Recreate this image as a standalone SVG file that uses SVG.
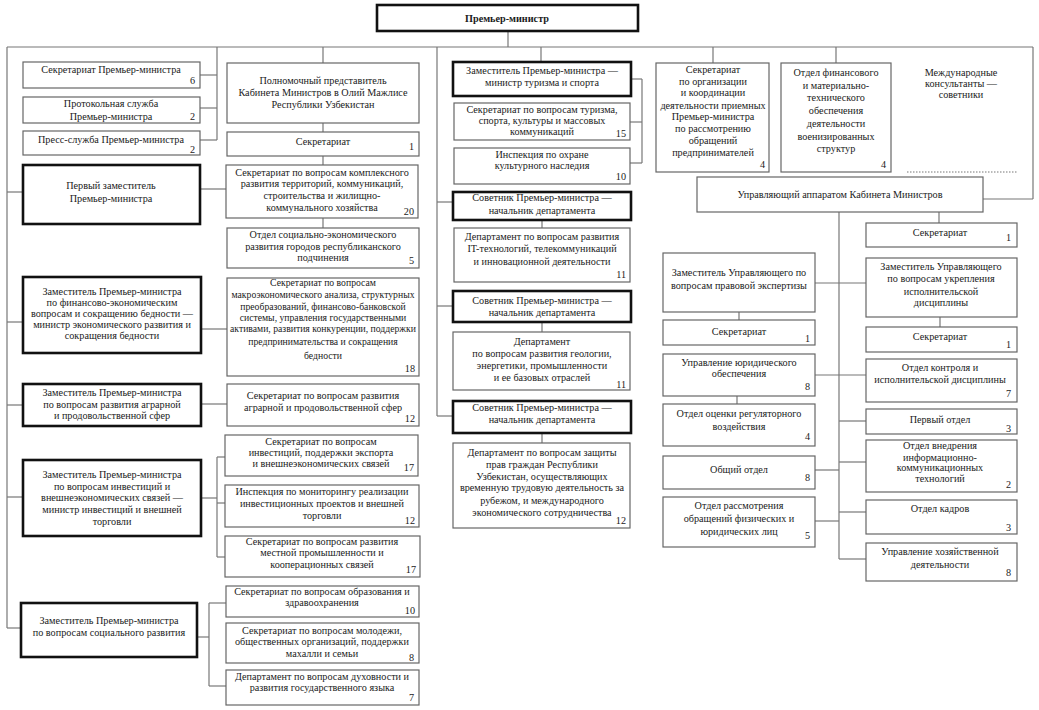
<svg xmlns="http://www.w3.org/2000/svg" width="1039" height="710" viewBox="0 0 1039 710" font-family="'Liberation Serif', 'Times New Roman', serif">
<style>
.b{fill:#fff;stroke:#666;stroke-width:1.2}
.t{fill:#fff;stroke:#111;stroke-width:2.6}
text{font-family:"Liberation Serif","Times New Roman",serif;font-size:10.2px;fill:#1a1a1a}
.m{text-anchor:middle}
.n{text-anchor:end}
.s{font-size:9.7px}
.c line,.c path{stroke:#777;stroke-width:1.2;fill:none}
</style>
<rect width="1039" height="710" fill="#fff"/>
<g class="c" id="connectors">
<line x1="508" y1="31" x2="508" y2="47"/>
<line x1="7" y1="47" x2="1033" y2="47"/>
<line x1="7" y1="47" x2="7" y2="628"/>
<line x1="7" y1="192" x2="23" y2="192"/>
<line x1="7" y1="322" x2="23" y2="322"/>
<line x1="7" y1="405" x2="23" y2="405"/>
<line x1="7" y1="497" x2="23" y2="497"/>
<line x1="7" y1="628" x2="21" y2="628"/>
<line x1="217" y1="47" x2="217" y2="140"/>
<line x1="200" y1="75" x2="217" y2="75"/>
<line x1="200" y1="108" x2="217" y2="108"/>
<line x1="200" y1="140" x2="217" y2="140"/>
<line x1="323" y1="47" x2="323" y2="63"/>
<line x1="323" y1="123" x2="323" y2="132"/>
<line x1="323" y1="156" x2="323" y2="165"/>
<line x1="323" y1="218" x2="323" y2="228"/>
<line x1="200" y1="189" x2="226" y2="189"/>
<line x1="201" y1="329" x2="227" y2="329"/>
<line x1="201" y1="404" x2="227" y2="404"/>
<line x1="217" y1="457" x2="217" y2="557"/>
<line x1="217" y1="457" x2="225" y2="457"/>
<line x1="217" y1="503" x2="225" y2="503"/>
<line x1="217" y1="557" x2="225" y2="557"/>
<line x1="201" y1="498" x2="217" y2="498"/>
<line x1="209" y1="603" x2="209" y2="686"/>
<line x1="209" y1="603" x2="226" y2="603"/>
<line x1="209" y1="686" x2="226" y2="686"/>
<line x1="197" y1="637" x2="209" y2="637"/>
<line x1="437" y1="47" x2="437" y2="416"/>
<line x1="437" y1="202" x2="453" y2="202"/>
<line x1="437" y1="306" x2="453" y2="306"/>
<line x1="437" y1="416" x2="453" y2="416"/>
<line x1="541" y1="47" x2="541" y2="62"/>
<line x1="642" y1="79" x2="642" y2="163"/>
<line x1="631" y1="79" x2="642" y2="79"/>
<line x1="630" y1="122" x2="642" y2="122"/>
<line x1="630" y1="163" x2="642" y2="163"/>
<line x1="542" y1="220" x2="542" y2="228"/>
<line x1="542" y1="322" x2="542" y2="332"/>
<line x1="542" y1="433" x2="542" y2="443"/>
<line x1="713" y1="47" x2="713" y2="63"/>
<line x1="836" y1="47" x2="836" y2="63"/>
<line x1="1033" y1="47" x2="1033" y2="199"/>
<line x1="983" y1="199" x2="1033" y2="199"/>
<line x1="907" y1="172" x2="1017" y2="172" stroke-dasharray="1.5,1.5"/>
<line x1="839" y1="212" x2="839" y2="559"/>
<line x1="939" y1="212" x2="939" y2="223"/>
<line x1="815" y1="283" x2="866" y2="283"/>
<line x1="739" y1="312" x2="739" y2="320"/>
<line x1="940" y1="317" x2="940" y2="327"/>
<line x1="815" y1="375" x2="866" y2="375"/>
<line x1="737" y1="396" x2="737" y2="404"/>
<line x1="839" y1="421" x2="866" y2="421"/>
<line x1="839" y1="462" x2="866" y2="462"/>
<line x1="815" y1="470" x2="839" y2="470"/>
<line x1="839" y1="512" x2="866" y2="512"/>
<line x1="815" y1="521" x2="839" y2="521"/>
<line x1="839" y1="559" x2="866" y2="559"/>
</g>
<g id="n0"><rect class="t" x="377" y="5" width="261" height="26"/><text class="m" x="507" y="22" font-weight="bold">Премьер-министр</text></g>
<g id="n1"><rect class="b" x="23" y="62" width="177" height="26"/><text class="m" x="111" y="73">Секретариат Премьер-министра</text><text class="n" x="195" y="84">6</text></g>
<g id="n2"><rect class="b" x="23" y="97" width="177" height="26"/><text class="m"><tspan x="111" y="107">Протокольная служба</tspan><tspan x="111" y="120">Премьер-министра</tspan></text><text class="n" x="195" y="120">2</text></g>
<g id="n3"><rect class="b" x="23" y="131" width="177" height="24"/><text class="m" x="111" y="143">Пресс-служба Премьер-министра</text><text class="n" x="195" y="153">2</text></g>
<g id="n4"><rect class="t" x="23" y="165" width="177" height="59"/><text class="m"><tspan x="111" y="189">Первый заместитель</tspan><tspan x="111" y="202">Премьер-министра</tspan></text></g>
<g id="n5"><rect class="t" x="23" y="277" width="178" height="76"/><text class="m"><tspan x="112" y="295">Заместитель Премьер-министра</tspan><tspan x="112" y="306">по финансово-экономическим</tspan><tspan x="112" y="317">вопросам и сокращению бедности —</tspan><tspan x="112" y="328">министр экономического развития и</tspan><tspan x="112" y="339">сокращения бедности</tspan></text></g>
<g id="n6"><rect class="t" x="23" y="384" width="178" height="42"/><text class="m"><tspan x="112" y="396">Заместитель Премьер-министра</tspan><tspan x="112" y="408">по вопросам развития аграрной</tspan><tspan x="112" y="419">и продовольственной сфер</tspan></text></g>
<g id="n7"><rect class="t" x="23" y="460" width="178" height="76"/><text class="m"><tspan x="112" y="478">Заместитель Премьер-министра</tspan><tspan x="112" y="490">по вопросам инвестиций и</tspan><tspan x="112" y="501">внешнеэкономических связей —</tspan><tspan x="112" y="513">министр инвестиций и внешней</tspan><tspan x="112" y="525">торговли</tspan></text></g>
<g id="n8"><rect class="t" x="21" y="603" width="176" height="54"/><text class="m"><tspan x="109" y="624">Заместитель Премьер-министра</tspan><tspan x="109" y="636">по вопросам социального развития</tspan></text></g>
<g id="n9"><rect class="b" x="227" y="63" width="192" height="60"/><text class="m"><tspan x="323" y="84">Полномочный представитель</tspan><tspan x="323" y="96">Кабинета Министров в Олий Мажлисе</tspan><tspan x="323" y="108">Республики Узбекистан</tspan></text></g>
<g id="n10"><rect class="b" x="227" y="132" width="192" height="24"/><text class="m" x="323" y="145">Секретариат</text><text class="n" x="414" y="150">1</text></g>
<g id="n11"><rect class="b" x="226" y="165" width="192" height="53"/><text class="m"><tspan x="322" y="176">Секретариат по вопросам комплексного</tspan><tspan x="322" y="187">развития территорий, коммуникаций,</tspan><tspan x="322" y="199">строительства и жилищно-</tspan><tspan x="322" y="211">коммунального хозяйства</tspan></text><text class="n" x="414" y="215">20</text></g>
<g id="n12"><rect class="b" x="227" y="228" width="192" height="40"/><text class="m"><tspan x="323" y="238">Отдел социально-экономического</tspan><tspan x="323" y="250">развития городов республиканского</tspan><tspan x="323" y="261">подчинения</tspan></text><text class="n" x="414" y="264">5</text></g>
<g id="n13"><rect class="b" x="227" y="278" width="192" height="98"/><text class="m s"><tspan x="323" y="286">Секретариат по вопросам</tspan><tspan x="323" y="298">макроэкономического анализа, структурных</tspan><tspan x="323" y="310">преобразований, финансово-банковской</tspan><tspan x="323" y="321">системы, управления государственными</tspan><tspan x="323" y="332">активами, развития конкуренции, поддержки</tspan><tspan x="323" y="345">предпринимательства и сокращения</tspan><tspan x="323" y="359">бедности</tspan></text><text class="n" x="415" y="372">18</text></g>
<g id="n14"><rect class="b" x="227" y="384" width="192" height="42"/><text class="m"><tspan x="323" y="399">Секретариат по вопросам развития</tspan><tspan x="323" y="411">аграрной и продовольственной сфер</tspan></text><text class="n" x="415" y="422">12</text></g>
<g id="n15"><rect class="b" x="225" y="435" width="193" height="41"/><text class="m"><tspan x="321" y="445">Секретариат по вопросам</tspan><tspan x="321" y="456">инвестиций, поддержки экспорта</tspan><tspan x="321" y="467">и внешнеэкономических связей</tspan></text><text class="n" x="414" y="471">17</text></g>
<g id="n16"><rect class="b" x="225" y="485" width="194" height="42"/><text class="m"><tspan x="322" y="495">Инспекция по мониторингу реализации</tspan><tspan x="322" y="507">инвестиционных проектов и внешней</tspan><tspan x="322" y="519">торговли</tspan></text><text class="n" x="415" y="524">12</text></g>
<g id="n17"><rect class="b" x="225" y="536" width="195" height="41"/><text class="m"><tspan x="322" y="545">Секретариат по вопросам развития</tspan><tspan x="322" y="556">местной промышленности и</tspan><tspan x="322" y="568">кооперационных связей</tspan></text><text class="n" x="416" y="573">17</text></g>
<g id="n18"><rect class="b" x="226" y="586" width="193" height="31"/><text class="m"><tspan x="322" y="595">Секретариат по вопросам образования и</tspan><tspan x="322" y="606">здравоохранения</tspan></text><text class="n" x="415" y="614">10</text></g>
<g id="n19"><rect class="b" x="226" y="623" width="193" height="40"/><text class="m"><tspan x="322" y="634">Секретариат по вопросам молодежи,</tspan><tspan x="322" y="645">общественных организаций, поддержки</tspan><tspan x="322" y="657">махалли и семьи</tspan></text><text class="n" x="414" y="661">8</text></g>
<g id="n20"><rect class="b" x="226" y="670" width="193" height="35"/><text class="m"><tspan x="322" y="680">Департамент по вопросам духовности и</tspan><tspan x="322" y="691">развития государственного языка</tspan></text><text class="n" x="414" y="701">7</text></g>
<g id="n21"><rect class="t" x="453" y="62" width="178" height="34"/><text class="m"><tspan x="542" y="74">Заместитель Премьер-министра —</tspan><tspan x="542" y="86">министр туризма и спорта</tspan></text></g>
<g id="n22"><rect class="b" x="454" y="103" width="176" height="37"/><text class="m"><tspan x="542" y="113">Секретариат по вопросам туризма,</tspan><tspan x="542" y="124">спорта, культуры и массовых</tspan><tspan x="542" y="135">коммуникаций</tspan></text><text class="n" x="626" y="137">15</text></g>
<g id="n23"><rect class="b" x="454" y="148" width="176" height="36"/><text class="m"><tspan x="542" y="158">Инспекция по охране</tspan><tspan x="542" y="169">культурного наследия</tspan></text><text class="n" x="626" y="180">10</text></g>
<g id="n24"><rect class="t" x="453" y="192" width="178" height="28"/><text class="m"><tspan x="542" y="201">Советник Премьер-министра —</tspan><tspan x="542" y="214">начальник департамента</tspan></text></g>
<g id="n25"><rect class="b" x="454" y="228" width="176" height="54"/><text class="m"><tspan x="542" y="240">Департамент по вопросам развития</tspan><tspan x="542" y="252">IT-технологий, телекоммуникаций</tspan><tspan x="542" y="265">и инновационной деятельности</tspan></text><text class="n" x="626" y="278">11</text></g>
<g id="n26"><rect class="t" x="453" y="291" width="178" height="31"/><text class="m"><tspan x="542" y="304">Советник Премьер-министра —</tspan><tspan x="542" y="316">начальник департамента</tspan></text></g>
<g id="n27"><rect class="b" x="453" y="332" width="177" height="58"/><text class="m"><tspan x="542" y="345">Департамент</tspan><tspan x="542" y="357">по вопросам развития геологии,</tspan><tspan x="542" y="369">энергетики, промышленности</tspan><tspan x="542" y="381">и ее базовых отраслей</tspan></text><text class="n" x="626" y="388">11</text></g>
<g id="n28"><rect class="t" x="453" y="401" width="178" height="32"/><text class="m"><tspan x="542" y="411">Советник Премьер-министра —</tspan><tspan x="542" y="423">начальник департамента</tspan></text></g>
<g id="n29"><rect class="b" x="453" y="443" width="177" height="85"/><text class="m"><tspan x="542" y="456">Департамент по вопросам защиты</tspan><tspan x="542" y="468">прав граждан Республики</tspan><tspan x="542" y="480">Узбекистан, осуществляющих</tspan><tspan x="542" y="491">временную трудовую деятельность за</tspan><tspan x="542" y="504">рубежом, и международного</tspan><tspan x="542" y="516">экономического сотрудничества</tspan></text><text class="n" x="626" y="524">12</text></g>
<g id="n30"><rect class="b" x="656" y="63" width="113" height="109"/><text class="m"><tspan x="713" y="73">Секретариат</tspan><tspan x="713" y="85">по организации</tspan><tspan x="713" y="96">и координации</tspan><tspan x="713" y="109">деятельности приемных</tspan><tspan x="713" y="120">Премьер-министра</tspan><tspan x="713" y="132">по рассмотрению</tspan><tspan x="713" y="144">обращений</tspan><tspan x="713" y="156">предпринимателей</tspan></text><text class="n" x="765" y="168">4</text></g>
<g id="n31"><rect class="b" x="781" y="63" width="110" height="109"/><text class="m"><tspan x="836" y="76">Отдел финансового</tspan><tspan x="836" y="89">и материально-</tspan><tspan x="836" y="101">технического</tspan><tspan x="836" y="114">обеспечения</tspan><tspan x="836" y="127">деятельности</tspan><tspan x="836" y="140">военизированных</tspan><tspan x="836" y="152">структур</tspan></text><text class="n" x="886" y="168">4</text></g>
<g id="n32"><text class="m"><tspan x="961" y="76">Международные</tspan><tspan x="961" y="87">консультанты —</tspan><tspan x="961" y="98">советники</tspan></text></g>
<g id="n33"><rect class="b" x="697" y="177" width="286" height="35"/><text class="m" x="840" y="198">Управляющий аппаратом Кабинета Министров</text></g>
<g id="n34"><rect class="b" x="866" y="223" width="151" height="24"/><text class="m" x="940" y="236">Секретариат</text><text class="n" x="1011" y="241">1</text></g>
<g id="n35"><rect class="b" x="663" y="253" width="152" height="59"/><text class="m"><tspan x="739" y="276">Заместитель Управляющего по</tspan><tspan x="739" y="289">вопросам правовой экспертизы</tspan></text></g>
<g id="n36"><rect class="b" x="866" y="258" width="151" height="59"/><text class="m"><tspan x="941" y="270">Заместитель Управляющего</tspan><tspan x="941" y="282">по вопросам укрепления</tspan><tspan x="941" y="295">исполнительской</tspan><tspan x="941" y="306">дисциплины</tspan></text></g>
<g id="n37"><rect class="b" x="663" y="320" width="152" height="25"/><text class="m" x="739" y="335">Секретариат</text><text class="n" x="810" y="342">1</text></g>
<g id="n38"><rect class="b" x="866" y="327" width="151" height="25"/><text class="m" x="940" y="340">Секретариат</text><text class="n" x="1011" y="348">1</text></g>
<g id="n39"><rect class="b" x="663" y="354" width="152" height="42"/><text class="m"><tspan x="739" y="366">Управление юридического</tspan><tspan x="739" y="377">обеспечения</tspan></text><text class="n" x="810" y="390">8</text></g>
<g id="n40"><rect class="b" x="866" y="359" width="151" height="43"/><text class="m"><tspan x="940" y="371">Отдел контроля и</tspan><tspan x="940" y="383">исполнительской дисциплины</tspan></text><text class="n" x="1011" y="397">7</text></g>
<g id="n41"><rect class="b" x="663" y="404" width="152" height="42"/><text class="m"><tspan x="739" y="417">Отдел оценки регуляторного</tspan><tspan x="739" y="430">воздействия</tspan></text><text class="n" x="810" y="440">4</text></g>
<g id="n42"><rect class="b" x="866" y="409" width="151" height="25"/><text class="m" x="940" y="423">Первый отдел</text><text class="n" x="1011" y="432">3</text></g>
<g id="n43"><rect class="b" x="866" y="440" width="151" height="52"/><text class="m"><tspan x="940" y="449">Отдел внедрения</tspan><tspan x="940" y="461">информационно-</tspan><tspan x="940" y="471">коммуникационных</tspan><tspan x="940" y="482">технологий</tspan></text><text class="n" x="1011" y="488">2</text></g>
<g id="n44"><rect class="b" x="663" y="456" width="152" height="33"/><text class="m" x="739" y="473">Общий отдел</text><text class="n" x="810" y="481">8</text></g>
<g id="n45"><rect class="b" x="663" y="497" width="152" height="50"/><text class="m"><tspan x="739" y="509">Отдел рассмотрения</tspan><tspan x="739" y="522">обращений физических и</tspan><tspan x="739" y="535">юридических лиц</tspan></text><text class="n" x="810" y="539">5</text></g>
<g id="n46"><rect class="b" x="866" y="500" width="151" height="34"/><text class="m" x="940" y="512">Отдел кадров</text><text class="n" x="1011" y="531">3</text></g>
<g id="n47"><rect class="b" x="866" y="543" width="151" height="38"/><text class="m"><tspan x="940" y="555">Управление хозяйственной</tspan><tspan x="940" y="568">деятельности</tspan></text><text class="n" x="1011" y="576">8</text></g>
</svg>
